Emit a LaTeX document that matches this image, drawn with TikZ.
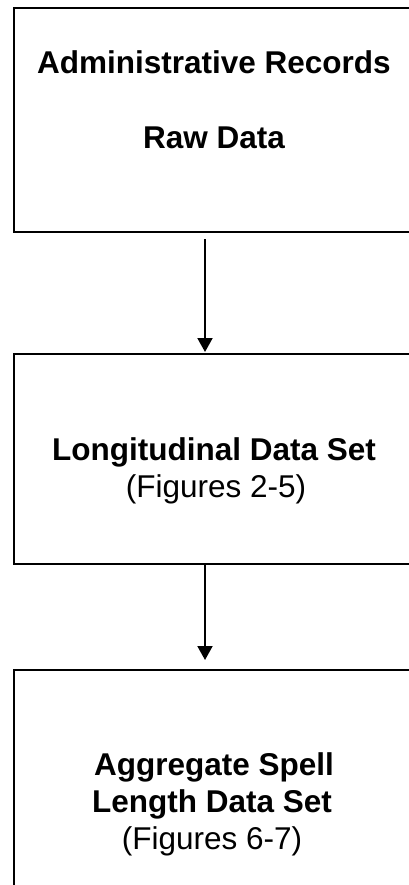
\documentclass[tikz,border=0pt]{standalone}
\usepackage{fontspec}
\setmainfont{Liberation Sans}
\usetikzlibrary{arrows.meta}
\begin{document}
\begin{tikzpicture}[x=1pt,y=-1pt,
  boxstyle/.style={draw=black,line width=2pt,rectangle,inner sep=0pt,anchor=north west},
  txt/.style={anchor=base,inner sep=0pt,font=\fontsize{31.5}{37}\selectfont},
  btxt/.style={txt,font=\fontsize{31.5}{37}\selectfont\bfseries},
  arr/.style={draw=black,line width=2pt,-{Triangle[width=15pt,length=14pt]}}]
\useasboundingbox[fill=white] (0,0) rectangle (408,885);
\node[boxstyle,minimum width=410pt,minimum height=224pt] (box1) at (12.5,7) {};
\node[boxstyle,minimum width=410pt,minimum height=210pt] (box2) at (12.5,353) {};
\node[boxstyle,minimum width=410pt,minimum height=240pt] (box3) at (12.5,669) {};
\coordinate (ax) at (205,0);
\node[btxt] (t1) at (214,74) {Administrative Records};
\node[btxt] (t2) at (214,149) {Raw Data};
\node[btxt] (t3) at (214,460) {Longitudinal Data Set};
\node[txt] (t4) at (216,497) {(Figures 2-5)};
\node[btxt] (t5) at (214,775) {Aggregate Spell};
\node[btxt] (t6) at (212,812) {Length Data Set};
\node[txt] (t7) at (212,849) {(Figures 6-7)};
\draw[arr] ([yshift=-6pt]box1.south -| ax) -- ([yshift=1pt]box2.north -| ax);
\draw[arr] (box2.south -| ax) -- ([yshift=9pt]box3.north -| ax);
\end{tikzpicture}
\end{document}
